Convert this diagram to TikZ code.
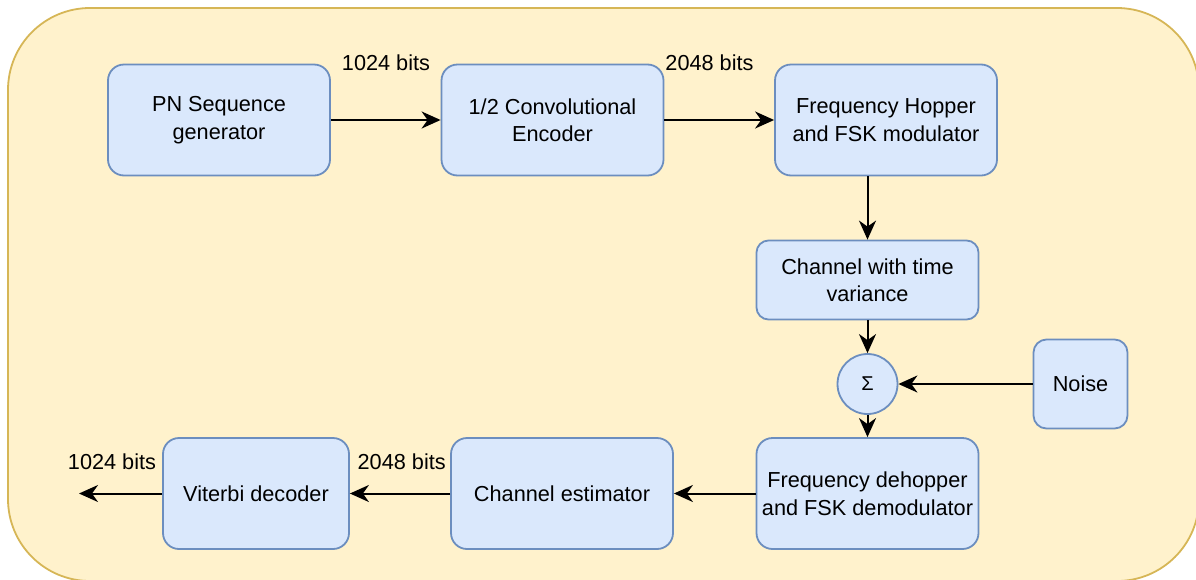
\documentclass[tikz,border=0pt]{standalone}
\usepackage{fontspec}
\setmainfont{Liberation Sans}
\usetikzlibrary{arrows.meta}
\definecolor{bgfill}{HTML}{FFF2CC}
\definecolor{bgdraw}{HTML}{D6B656}
\definecolor{boxfill}{HTML}{DAE8FC}
\definecolor{boxdraw}{HTML}{6C8EBF}
\begin{document}
\begin{tikzpicture}[x=1pt,y=-1pt,
  blk/.style={draw=boxdraw, fill=boxfill, line width=1.8pt, rounded corners=16pt, align=center, inner sep=0pt,
    minimum width=222pt, minimum height=111pt, font=\fontsize{21.7}{27.5}\selectfont},
  lbl/.style={font=\fontsize{21.7}{27.5}\selectfont, inner sep=0pt},
  arr/.style={line width=2pt, -{Stealth[length=19pt,width=17pt,inset=6pt]}}]
\useasboundingbox (0,0) rectangle (1196,579);
\path[draw=bgdraw, fill=bgfill, line width=1.8pt, rounded corners=82pt] (8,8) rectangle (1199,581);

\node[blk] (pn) at (219,120) {PN Sequence\\generator};
\node[blk] (conv) at (552.5,120) {1/2 Convolutional\\Encoder};
\node[blk] (fh) at (886,120) {Frequency Hopper\\and FSK modulator};
\node[blk, minimum height=79pt, rounded corners=12pt] (chan) at (867.5,280) {Channel with time\\variance};
\node[draw=boxdraw, fill=boxfill, circle, minimum size=60pt, inner sep=0pt, line width=1.8pt,
  font=\fontsize{20}{22}\selectfont] (sum) at (867.5,384) {Σ};
\node[blk, minimum width=94pt, minimum height=89pt, rounded corners=13pt] (noise) at (1080.5,384) {Noise};
\node[blk] (deh) at (867.5,493.5) {Frequency dehopper\\and FSK demodulator};
\node[blk] (est) at (562,493.5) {Channel estimator};
\node[blk, minimum width=186pt] (vit) at (256,493.5) {Viterbi decoder};
\coordinate (out) at (79,493.5);

\node[lbl] (l1) at (386,62.7) {1024 bits};
\node[lbl] (l2) at (709.5,62.7) {2048 bits};
\node[lbl] (l3) at (401.7,461.7) {2048 bits};
\node[lbl] (l4) at (112,461.7) {1024 bits};

\draw[arr] (pn.east) -- (conv.west);
\draw[arr] (conv.east) -- (fh.west);
\draw[arr] (fh.south -| chan.north) -- (chan.north);
\draw[arr] (chan.south) -- (sum.north);
\draw[arr] (noise.west) -- (sum.east);
\draw[arr] (sum.south) -- (deh.north);
\draw[arr] (deh.west) -- (est.east);
\draw[arr] (est.west) -- (vit.east);
\draw[arr] (vit.west) -- (out);
\end{tikzpicture}
\end{document}
